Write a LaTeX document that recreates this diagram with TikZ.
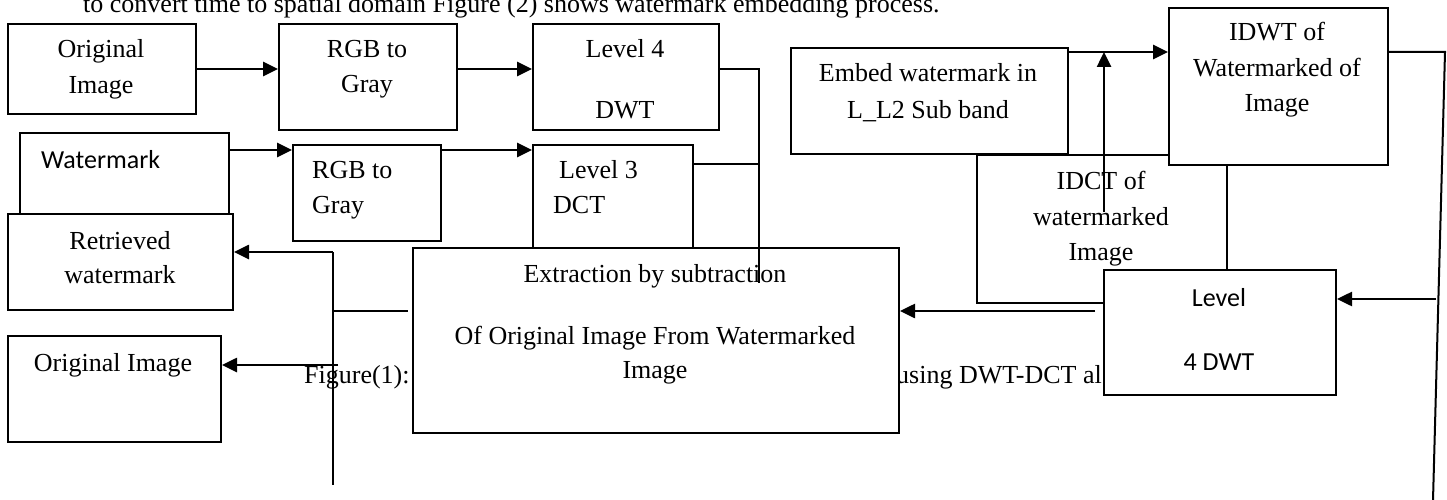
\documentclass[tikz,border=0pt]{standalone}
\usepackage{fontspec}
\setmainfont{Liberation Serif}
\newfontfamily\calibrifont{Carlito}
\usetikzlibrary{arrows.meta}
\begin{document}
\begin{tikzpicture}[x=1pt,y=-1pt,
  box/.style={draw, line width=2pt, fill=white, inner sep=0pt, anchor=north west},
  lbl/.style={anchor=base, inner sep=0pt, font=\fontsize{26}{30}\selectfont},
  lblw/.style={anchor=base west, inner sep=0pt, font=\fontsize{26}{30}\selectfont},
  slbl/.style={anchor=base, inner sep=0pt, font=\calibrifont\fontsize{26}{30}\selectfont},
  arr/.style={line width=2.6pt, -{Triangle[length=15pt,width=14pt]}},
  ln/.style={line width=2pt}]
\useasboundingbox (0,0) rectangle (1447,500);
\clip (0,0) rectangle (1447,500);

% running text behind the diagram
\node[lblw] (toptext) at (83,13) {to convert time to spatial domain Figure (2) shows watermark embedding process.};
\node[lblw] (figcap) at (304,383) {Figure(1):};
\node[anchor=base east, inner sep=0pt, font=\fontsize{26}{30}\selectfont] (figcap2) at (1102,383) {using DWT-DCT al};

% boxes
\node[box, minimum width=188pt, minimum height=90pt] (orig) at (7,23) {};
\node[box, minimum width=178pt, minimum height=106pt] (rgb1) at (278,23) {};
\node[box, minimum width=186pt, minimum height=106pt] (lvl4) at (532,23) {};
\node[box, minimum width=209pt, minimum height=81pt] (wm) at (19,132) {};
\node[box, minimum width=148pt, minimum height=96pt] (rgb2) at (292,144) {};
\node[box, minimum width=160pt, minimum height=106pt] (lvl3) at (532,144) {};
\node[box, minimum width=225pt, minimum height=96pt] (retr) at (7,213) {};
\node[box, minimum width=213pt, minimum height=106pt] (origout) at (7,335) {};
\node[box, minimum width=486pt, minimum height=185pt] (extr) at (412,247) {};
\node[box, minimum width=250pt, minimum height=148pt] (idct) at (976,154) {};
\node[box, minimum width=277pt, minimum height=106pt] (embed) at (790,47) {};
\node[box, minimum width=219pt, minimum height=157pt] (idwt) at (1168,7) {};
\node[box, minimum width=232pt, minimum height=125pt] (lvl4b) at (1103,269) {};

% texts
\node[lbl] (t1) at (101,58) {Original};
\node[lbl] (t2) at (101,94) {Image};
\node[lbl] (t3) at (367,58) {RGB to};
\node[lbl] (t4) at (367,93) {Gray};
\node[lbl] (t5) at (625,58) {Level 4};
\node[lbl] (t6) at (625,118) {DWT};
\node[slbl, anchor=base west] (t7) at (41,168) {Watermark};
\node[lblw] (t8) at (312,178) {RGB to};
\node[lblw] (t9) at (312,213) {Gray};
\node[lblw] (t10) at (559,178) {Level 3};
\node[lblw] (t11) at (553,213) {DCT};
\node[lbl] (t12) at (120,249) {Retrieved};
\node[lbl] (t13) at (120,283) {watermark};
\node[lbl] (t14) at (113,371) {Original Image};
\node[lbl] (t15) at (655,282) {Extraction by subtraction};
\node[lbl] (t16) at (655,344) {Of Original Image From Watermarked};
\node[lbl] (t17) at (655,378) {Image};
\node[lbl] (t18) at (928,82) {Embed watermark in};
\node[lbl] (t19) at (928,118) {L\_L2 Sub band};
\node[lbl] (t20) at (1277,41) {IDWT of};
\node[lbl] (t21) at (1277,77) {Watermarked of};
\node[lbl] (t22) at (1277,112) {Image};
\node[lbl] (t23) at (1101,189) {IDCT of};
\node[lbl] (t24) at (1101,225) {watermarked};
\node[lbl] (t25) at (1101,260) {Image};
\node[slbl] (t26) at (1219,306) {Level};
\node[slbl] (t27) at (1219,370) {4 DWT};

% helper coordinates
\coordinate (r1) at (0,69);
\coordinate (r2) at (0,150);
\coordinate (r3) at (0,164);
\coordinate (r4) at (0,52);
\coordinate (j1) at (759,283);
\coordinate (u1) at (1104,212);
\coordinate (c1) at (1445,52);
\coordinate (c2) at (1433,500);
\coordinate (c3) at (1436,299);
\coordinate (c4) at (1095,311);
\coordinate (c5) at (333,252);
\coordinate (c6) at (333,485);
\coordinate (c7) at (408,311);
\coordinate (c8) at (338,365);

% connectors
\draw[arr] (orig.east |- r1) -- (rgb1.west |- r1);
\draw[arr] (rgb1.east |- r1) -- (lvl4.west |- r1);
\draw[arr] (wm.east |- r2) -- (rgb2.west |- r2);
\draw[arr] (rgb2.east |- r2) -- (lvl3.west |- r2);
\draw[ln] (lvl4.east |- r1) -- (j1 |- r1) -- (j1);
\draw[ln] (lvl3.east |- r3) -- (j1 |- r3);
\draw[arr] (embed.east |- r4) -- (idwt.west |- r4);
\draw[arr] (u1) -- (u1 |- r4);
\draw[ln] (idwt.east |- r4) -- (c1) -- (c2);
\draw[arr] (c3) -- (lvl4b.east |- c3);
\draw[arr] (c4) -- (extr.east |- c4);
\draw[ln] (c5) -- (c6);
\draw[arr] (c5) -- (retr.east |- c5);
\draw[ln] (c5 |- c7) -- (c7);
\draw[arr] (c8) -- (origout.east |- c8);
\end{tikzpicture}
\end{document}
